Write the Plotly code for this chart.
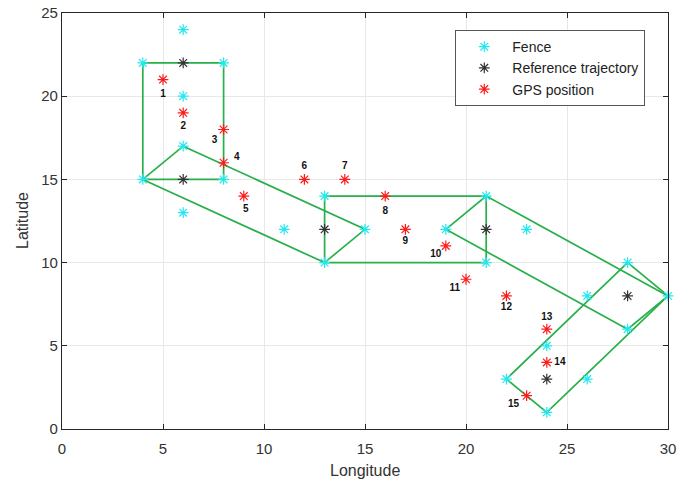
import plotly.graph_objects as go

# Fence points
fence_x = [4, 8, 4, 8, 6, 6, 6, 6, 13, 21, 13, 21, 11, 15, 19, 23, 28, 30, 28, 26, 24, 22, 24, 26]
fence_y = [22, 22, 15, 15, 24, 20, 17, 13, 14, 14, 10, 10, 12, 12, 12, 12, 10, 8, 6, 8, 5, 3, 1, 3]

# Reference trajectory
ref_x = [6, 6, 13, 21, 28, 24]
ref_y = [22, 15, 12, 12, 8, 3]

# GPS positions
gps_x = [5, 6, 8, 8, 9, 12, 14, 16, 17, 19, 20, 22, 24, 24, 23]
gps_y = [21, 19, 18, 16, 14, 15, 15, 14, 12, 11, 9, 8, 6, 4, 2]
gps_labels = [str(i) for i in range(1, 16)]
# label offsets (in data units) relative to each GPS point
label_dx = [0, 0, -0.45, 0.65, 0.1, 0, 0, 0, 0, -0.5, -0.55, 0, 0, 0.65, -0.65]
label_dy = [-0.9, -0.8, -0.65, 0.3, -0.8, 0.8, 0.8, -0.9, -0.75, -0.5, -0.55, -0.7, 0.7, 0, -0.55]

# Fence polygons (closed)
polygons = [
    [(4, 22), (8, 22), (8, 15), (4, 15), (4, 22)],
    [(4, 15), (6, 17), (15, 12), (13, 10), (4, 15)],
    [(13, 14), (21, 14), (21, 10), (13, 10), (13, 14)],
    [(19, 12), (21, 14), (30, 8), (28, 6), (19, 12)],
    [(22, 3), (28, 10), (30, 8), (24, 1), (22, 3)],
]

x_ticks = [0, 5, 10, 15, 20, 25, 30]
y_ticks = [0, 5, 10, 15, 20, 25]

fig = go.Figure()

for poly in polygons:
    fig.add_trace(go.Scatter(
        x=[p[0] for p in poly], y=[p[1] for p in poly], mode="lines",
        line=dict(color="#27b04a", width=1.7), showlegend=False, hoverinfo="skip",
        cliponaxis=False))

def star(color):
    return dict(symbol="asterisk-open", size=9, line=dict(color=color, width=1.2), color=color)

fig.add_trace(go.Scatter(x=fence_x, y=fence_y, mode="markers", name="Fence",
                         marker=star("#22e8f0"), cliponaxis=False))
fig.add_trace(go.Scatter(x=ref_x, y=ref_y, mode="markers", name="Reference trajectory",
                         marker=star("#333333"), cliponaxis=False))
fig.add_trace(go.Scatter(x=gps_x, y=gps_y, mode="markers", name="GPS position",
                         marker=star("#ff1a1a"), cliponaxis=False))

fig.add_trace(go.Scatter(
    x=[x + dx for x, dx in zip(gps_x, label_dx)],
    y=[y + dy for y, dy in zip(gps_y, label_dy)],
    mode="text", text=gps_labels, showlegend=False, hoverinfo="skip",
    textfont=dict(family="Liberation Sans", size=10, color="#111111", weight="bold")))

axis_common = dict(
    showgrid=True, gridcolor="#e8e8e8", gridwidth=1,
    showline=True, linecolor="#262626", linewidth=1.3, mirror="allticks",
    ticks="inside", ticklen=5, tickcolor="#262626", tickwidth=1,
    zeroline=False, automargin=False,
    tickfont=dict(family="Liberation Sans", size=15, color="#333333"),
)

fig.update_xaxes(range=[0, 30], tickvals=x_ticks, ticktext=[str(v) for v in x_ticks],
                 ticklabelstandoff=6, **axis_common)
fig.update_yaxes(range=[0, 25], tickvals=y_ticks, ticktext=[str(v) for v in y_ticks],
                 **axis_common)

title_font = dict(family="Liberation Sans", size=16, color="#333333")
fig.add_annotation(text="Longitude", xref="paper", yref="paper", x=0.5, y=-0.0986,
                   xanchor="center", yanchor="middle", showarrow=False, font=title_font)
fig.add_annotation(text="Latitude", xref="paper", yref="paper", x=-0.066, y=0.5,
                   xanchor="center", yanchor="middle", showarrow=False, textangle=-90,
                   font=title_font)

fig.update_layout(
    width=689, height=481, autosize=False,
    margin=dict(l=62, r=21, t=13, b=52),
    plot_bgcolor="white", paper_bgcolor="white",
    legend=dict(x=0.649, y=0.959, xanchor="left", yanchor="top",
                bgcolor="white", bordercolor="#555555", borderwidth=1,
                font=dict(family="Liberation Sans", size=14, color="#222222"),
                tracegroupgap=0, itemwidth=46),
)

fig.write_html("out.html", config={"displayModeBar": False},
               post_script="document.body.style.margin='0px';")
